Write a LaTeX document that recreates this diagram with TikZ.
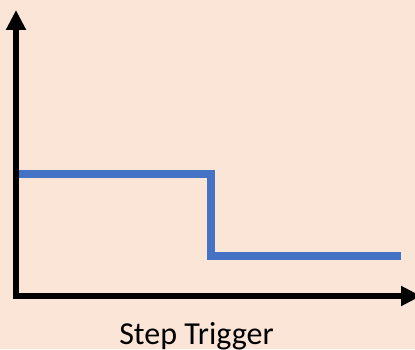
\documentclass[tikz,border=0pt]{standalone}
\usepackage{fontspec}
\setmainfont{Carlito}
\usetikzlibrary{arrows.meta}
\definecolor{peach}{HTML}{FBE5D6}
\definecolor{stepblue}{HTML}{4472C4}

\begin{document}
\begin{tikzpicture}[x=1pt, y=1pt,
    axis/.style={draw=black, line width=6pt, {Triangle[length=20pt, width=19pt]}-{Triangle[length=20pt, width=19pt]}},
    signal/.style={draw=stepblue, line width=8pt}]
    \fill[peach] (0,0) rectangle (415,349);
    \useasboundingbox (0,0) rectangle (415,349);
    \coordinate(ytip)       at (16,339);
    \coordinate(origin)     at (16,53);
    \coordinate(xtip)       at (421,53);
    \coordinate(s0)         at (16,175);
    \coordinate(s1)         at (210.5,175);
    \coordinate(s2)         at (210.5,93);
    \coordinate(s3)         at (401,93);
    \node[anchor=base, font=\fontsize{32}{38}\selectfont](label) at (196.5,5) {Step Trigger};
    % Signal
    \path[signal] (s0) -- (s1) -- (s2) -- (s3);
    % Axes
    \path[axis] (ytip) -- (origin) -- (xtip);
\end{tikzpicture}
\end{document}
